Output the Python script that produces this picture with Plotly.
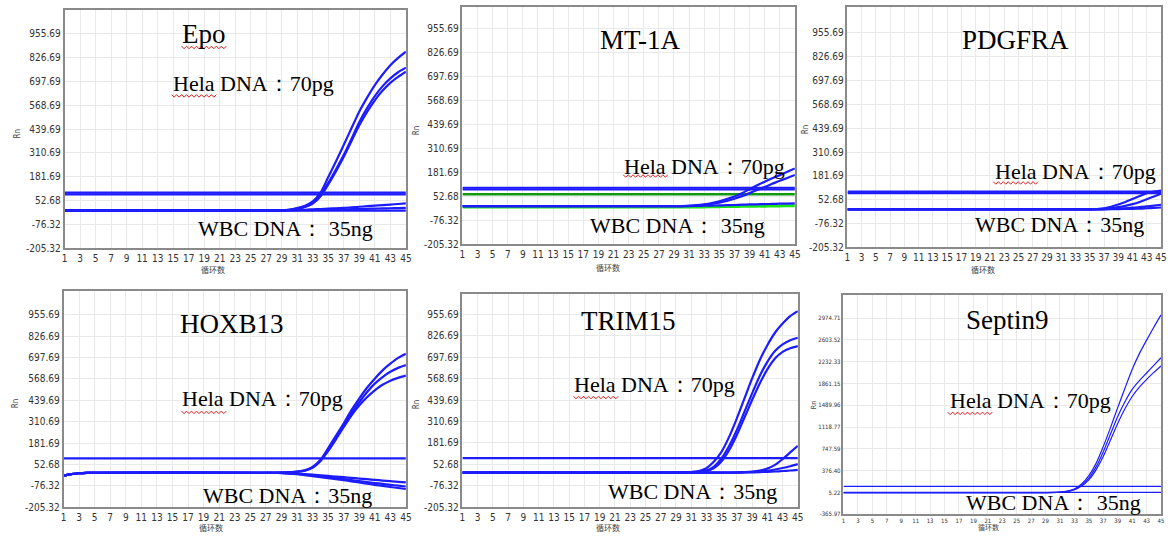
import plotly.graph_objects as go

# ---------------- data ----------------
CYCLES = [1, 26, 27, 28, 29, 30, 31, 32, 33, 34, 35, 36, 37, 38, 39, 40, 41, 42, 43, 44, 45]
CYCLES_HOX = [1, 2, 3, 4, 26, 27, 28, 29, 30, 31, 32, 33, 34, 35, 36, 37, 38, 39, 40, 41, 42, 43, 44, 45]
X_TICKS = [1, 3, 5, 7, 9, 11, 13, 15, 17, 19, 21, 23, 25, 27, 29, 31, 33, 35, 37, 39, 41, 43, 45]
Y_TICKS_STD = ["-205.32", "-76.32", "52.68", "181.69", "310.69", "439.69", "568.69", "697.69", "826.69", "955.69"]
Y_TICKS_SEPT = ["-365.97", "5.22", "376.40", "747.59", "1118.77", "1489.96", "1861.15", "2232.33", "2603.52", "2974.71"]

# Epo
EPO_HELA_1 = [0, 0, 0, 0, 1, 3, 12, 25, 48, 95, 180, 265, 355, 445, 535, 610, 678, 735, 785, 825, 859]
EPO_HELA_2 = [0, 0, 0, 0, 1, 2, 10, 20, 40, 82, 148, 222, 300, 388, 478, 553, 618, 672, 714, 747, 772]
EPO_HELA_3 = [0, 0, 0, 0, 0, 2, 8, 18, 36, 76, 140, 212, 290, 375, 460, 532, 595, 648, 690, 722, 750]
EPO_WBC_1 = [0, 0, 0, 0, 0, 1, 2, 3, 5, 7, 9, 11, 13, 16, 19, 22, 25, 28, 31, 34, 37]
EPO_WBC_2 = [0, 0, 0, 0, 0, 0, 0, 1, 1, 2, 3, 4, 5, 6, 7, 8, 9, 10, 11, 12, 13]
EPO_WBC_3 = [-2, -2, -2, -2, -2, -2, -2, -2, -2, -2, -2, -2, -2, -2, -2, -2, -2, -2, -2, -2, -2]
EPO_THRESHOLDS = [86, 96]

# MT-1A
MT_HELA_1 = [0, 0, 0, 0, 0, 0, 2, 5, 10, 17, 26, 38, 52, 70, 91, 112, 132, 150, 167, 185, 203]
MT_HELA_2 = [0, 0, 0, 0, 0, 0, 1, 3, 7, 12, 19, 28, 40, 54, 70, 87, 103, 120, 137, 152, 168]
MT_WBC_1 = [0, 0, 0, 0, 0, 0, 0, 1, 2, 3, 4, 5, 6, 8, 9, 10, 11, 12, 13, 14, 15]
MT_WBC_GREEN = [-4, -4, -4, -4, -4, -4, -4, -4, -4, -3, -3, -2, -2, -1, -1, 0, 0, 1, 1, 2, 2]
MT_THRESHOLDS_BLUE = [90, 99]
MT_THRESHOLD_GREEN = 64

# PDGFRA
PDG_HELA_1 = [0, 0, 0, 0, 0, 0, 0, 0, 0, 0, 0, 2, 6, 14, 26, 40, 56, 72, 88, 96, 102]
PDG_HELA_2 = [0, 0, 0, 0, 0, 0, 0, 0, 0, 0, 0, 1, 3, 7, 12, 19, 28, 40, 55, 70, 85]
PDG_HELA_3 = [0, 0, 0, 0, 0, 0, 0, 0, 0, 0, 0, 0, 1, 2, 4, 6, 9, 12, 16, 20, 25]
PDG_WBC_1 = [0, 0, 0, 0, 0, 0, 0, 0, 0, 0, 0, 0, 0, 1, 1, 2, 3, 4, 6, 8, 10]
PDG_THRESHOLDS = [88, 96]

# HOXB13
HOX_HELA_1 = [-15, -5, 0, 2, 3, 3, 3, 4, 6, 10, 18, 38, 80, 150, 225, 300, 380, 450, 515, 570, 620, 660, 695, 720]
HOX_HELA_2 = [-15, -5, 0, 2, 3, 3, 3, 4, 6, 9, 16, 35, 75, 140, 213, 288, 362, 428, 488, 540, 580, 612, 635, 652]
HOX_HELA_3 = [-15, -5, 0, 2, 3, 3, 3, 4, 5, 8, 15, 32, 72, 133, 203, 277, 348, 408, 458, 500, 533, 558, 575, 588]
HOX_WBC_1 = [-15, -5, 0, 2, 3, 3, 3, 2, 0, -2, -5, -8, -12, -16, -20, -24, -28, -32, -36, -40, -44, -48, -52, -55]
HOX_WBC_2 = [-15, -5, 0, 2, 3, 3, 3, 2, -1, -4, -8, -13, -18, -23, -29, -35, -41, -47, -53, -59, -64, -70, -75, -80]
HOX_WBC_3 = [-15, -5, 0, 2, 3, 3, 3, 1, -2, -6, -11, -17, -23, -29, -35, -42, -49, -56, -63, -70, -76, -83, -89, -95]
HOX_THRESHOLDS = [90]

# TRIM15
TRIM_HELA_1 = [3, 3, 3, 3, 4, 5, 7, 12, 30, 70, 130, 220, 330, 450, 570, 680, 770, 845, 900, 945, 975]
TRIM_HELA_2 = [3, 3, 3, 3, 4, 5, 6, 9, 16, 40, 90, 165, 260, 370, 480, 585, 670, 735, 775, 800, 815]
TRIM_HELA_3 = [3, 3, 3, 3, 3, 4, 5, 7, 12, 30, 72, 140, 230, 335, 440, 540, 625, 690, 730, 752, 765]
TRIM_WBC_1 = [3, 3, 3, 3, 3, 3, 3, 3, 3, 3, 4, 4, 5, 7, 10, 16, 28, 50, 85, 125, 165]
TRIM_WBC_2 = [3, 3, 3, 3, 3, 3, 3, 3, 3, 3, 3, 3, 4, 5, 7, 10, 15, 22, 31, 42, 55]
TRIM_WBC_3 = [3, 3, 3, 3, 3, 3, 3, 3, 3, 3, 3, 3, 3, 4, 5, 6, 8, 10, 13, 16, 20]
TRIM_THRESHOLDS = [90]

# Septin9
SEPT_HELA_1 = [0, 0, 0, 0, 2, 5, 12, 28, 65, 150, 290, 500, 790, 1110, 1450, 1780, 2100, 2370, 2600, 2820, 3030]
SEPT_HELA_2 = [0, 0, 0, 0, 2, 4, 10, 24, 58, 130, 250, 440, 700, 1000, 1300, 1550, 1760, 1910, 2040, 2170, 2300]
SEPT_HELA_3 = [0, 0, 0, 0, 1, 3, 8, 20, 50, 115, 220, 390, 620, 900, 1180, 1430, 1640, 1800, 1930, 2050, 2160]
SEPT_WBC_1 = [5, 5, 5, 5, 5, 5, 5, 5, 5, 5, 5, 5, 5, 5, 5, 5, 5, 5, 5, 5, 5]
SEPT_THRESHOLDS = [110]

GENES = ["Epo", "MT-1A", "PDGFRA", "HOXB13", "TRIM15", "Septin9"]
HELA_LABEL = "Hela DNA：70pg"
WBC_LABELS = ["WBC DNA： 35ng", "WBC DNA： 35ng", "WBC DNA：35ng", "WBC DNA：35ng", "WBC DNA：35ng", "WBC DNA： 35ng"]
X_TITLE = "循环数"
Y_TITLE = "Rn"

# ---------------- layout helpers ----------------
W, H = 1171, 540
BLUE = "#1c1cff"


def fx(p):
    return p / W


def fy(p):
    return 1 - p / H


panels = [
    dict(box=(62, 406, 10, 251), yr=(-205.32, 1084.69), yt=Y_TICKS_STD, cyc=CYCLES,
         hela=[EPO_HELA_1, EPO_HELA_2, EPO_HELA_3], wbc=[EPO_WBC_1, EPO_WBC_2, EPO_WBC_3],
         thr=EPO_THRESHOLDS, gene=(203, 34), hl=(252, 84), wl=(285, 231), xt=(212, 273), ytp=(15, 135),
         small=False, wavy=[(180, 227, 48), (170, 215, 97)]),
    dict(box=(463, 798, 7, 247), yr=(-205.32, 1073), yt=Y_TICKS_STD, cyc=CYCLES,
         hela=[MT_HELA_1, MT_HELA_2], wbc=[MT_WBC_1],
         thr=MT_THRESHOLDS_BLUE, gene=(642, 40), hl=(707, 168), wl=(680, 228), xt=(610, 270), ytp=(417, 132),
         small=False, wavy=[(625, 670, 178)]),
    dict(box=(851, 1167, 7, 250), yr=(-205.32, 1097), yt=Y_TICKS_STD, cyc=CYCLES,
         hela=[PDG_HELA_1, PDG_HELA_2, PDG_HELA_3], wbc=[PDG_WBC_1],
         thr=PDG_THRESHOLDS, gene=(1020, 40), hl=(1081, 173), wl=(1065, 227), xt=(988, 273), ytp=(809, 131),
         small=False, wavy=[(998, 1045, 185)]),
    dict(box=(61, 406, 294, 513), yr=(-205.32, 1100), yt=Y_TICKS_STD, cyc=CYCLES_HOX,
         hela=[HOX_HELA_1, HOX_HELA_2, HOX_HELA_3], wbc=[HOX_WBC_1, HOX_WBC_2, HOX_WBC_3],
         thr=HOX_THRESHOLDS, gene=(231, 328), hl=(262, 403), wl=(287, 501), xt=(210, 533), ytp=(13, 408),
         small=False, wavy=[(180, 225, 417)]),
    dict(box=(463, 801, 297, 513), yr=(-205.32, 1080), yt=Y_TICKS_STD, cyc=CYCLES,
         hela=[TRIM_HELA_1, TRIM_HELA_2, TRIM_HELA_3], wbc=[TRIM_WBC_1, TRIM_WBC_2, TRIM_WBC_3],
         thr=TRIM_THRESHOLDS, gene=(630, 325), hl=(657, 389), wl=(695, 497), xt=(610, 533), ytp=(417, 409),
         small=False, wavy=[(575, 620, 402)]),
    dict(box=(847, 1167, 298, 520), yr=(-365.97, 3374), yt=Y_TICKS_SEPT, cyc=CYCLES,
         hela=[SEPT_HELA_1, SEPT_HELA_2, SEPT_HELA_3], wbc=[SEPT_WBC_1],
         thr=SEPT_THRESHOLDS, gene=(1012, 324), hl=(1035, 405), wl=(1059, 508), xt=(993, 533), ytp=(818, 410),
         small=True, wavy=[(952, 998, 418)]),
]

fig = go.Figure()
annotations = []
shapes = []
TICK_FONT = "Liberation Sans Narrow, DejaVu Sans Condensed, Arial Narrow, sans-serif"
SERIF = "Liberation Serif, Times New Roman, serif"


def wavy_path(xa, xb, yc):
    pts = []
    step = 2.5
    k = 0
    x = xa
    while x <= xb:
        yy = yc + (1.3 if k % 2 else -1.3)
        pts.append(f"{fx(x):.5f},{fy(yy):.5f}")
        x += step
        k += 1
    return "M " + " L ".join(pts)


for i, p in enumerate(panels):
    n = i + 1
    xa = "x" if n == 1 else f"x{n}"
    ya = "y" if n == 1 else f"y{n}"
    lw = 1.2 if p["small"] else 2.2
    if n == 2:
        fig.add_trace(go.Scatter(x=CYCLES, y=MT_WBC_GREEN, mode="lines", line_shape="spline",
                                 line=dict(color="#19e619", width=3),
                                 xaxis=xa, yaxis=ya, showlegend=False, hoverinfo="skip"))
    for t in p["thr"]:
        fig.add_trace(go.Scatter(x=[X_TICKS[0], X_TICKS[-1]], y=[t, t], mode="lines",
                                 line=dict(color=BLUE, width=lw), xaxis=xa, yaxis=ya,
                                 showlegend=False, hoverinfo="skip"))
    if n == 2:
        fig.add_trace(go.Scatter(x=[X_TICKS[0], X_TICKS[-1]], y=[MT_THRESHOLD_GREEN, MT_THRESHOLD_GREEN],
                                 mode="lines", line=dict(color="#109a10", width=2.4),
                                 xaxis=xa, yaxis=ya, showlegend=False, hoverinfo="skip"))
    for s in p["wbc"] + p["hela"]:
        fig.add_trace(go.Scatter(x=p["cyc"], y=s, mode="lines", line_shape="spline",
                                 line=dict(color=BLUE, width=lw, smoothing=0.8),
                                 xaxis=xa, yaxis=ya, showlegend=False, hoverinfo="skip"))

    x0, x1, y0, y1 = p["box"]
    tfs = 6 if p["small"] else 10
    common = dict(showline=True, mirror=True, linecolor="#8a8a8a", linewidth=1.5,
                  showgrid=True, gridcolor="#e9e9e9", gridwidth=1, zeroline=False,
                  ticks="", tickfont=dict(family=TICK_FONT, size=tfs, color="#333"))
    fig.layout[f"xaxis{'' if n == 1 else n}"] = dict(
        domain=[fx(x0), fx(x1)], anchor=ya, range=[X_TICKS[0], X_TICKS[-1]],
        tickmode="array", tickvals=X_TICKS, ticktext=[str(v) for v in X_TICKS], **common)
    fig.layout[f"yaxis{'' if n == 1 else n}"] = dict(
        domain=[fy(y1), fy(y0)], anchor=xa, range=list(p["yr"]),
        tickmode="array", tickvals=[float(v) for v in p["yt"]], ticktext=p["yt"], **common)

    def ann(text, pos, font, angle=0):
        annotations.append(dict(text=text, x=fx(pos[0]), y=fy(pos[1]), xref="paper", yref="paper",
                                xanchor="center", yanchor="middle", showarrow=False,
                                textangle=angle, font=font))

    ann(GENES[i], p["gene"], dict(family=SERIF, size=27, color="black"))
    ann(HELA_LABEL, p["hl"], dict(family=SERIF, size=22, color="black"))
    ann(WBC_LABELS[i], p["wl"], dict(family=SERIF, size=22, color="black"))
    ann(X_TITLE, p["xt"], dict(family="Noto Sans CJK SC", size=7 if p["small"] else 8, color="#444"))
    ann(Y_TITLE, p["ytp"], dict(family=TICK_FONT, size=7 if p["small"] else 8, color="#444"), -90)
    for (a, b, yc) in p["wavy"]:
        shapes.append(dict(type="path", path=wavy_path(a, b, yc), xref="paper", yref="paper",
                           line=dict(color="#e02020", width=1)))

fig.update_layout(width=W, height=H, margin=dict(l=0, r=0, t=0, b=0),
                  paper_bgcolor="white", plot_bgcolor="white", annotations=annotations,
                  shapes=shapes, showlegend=False)

fig.write_html("out.html", config={"displayModeBar": False},
               post_script="document.body.style.margin='0px';")
